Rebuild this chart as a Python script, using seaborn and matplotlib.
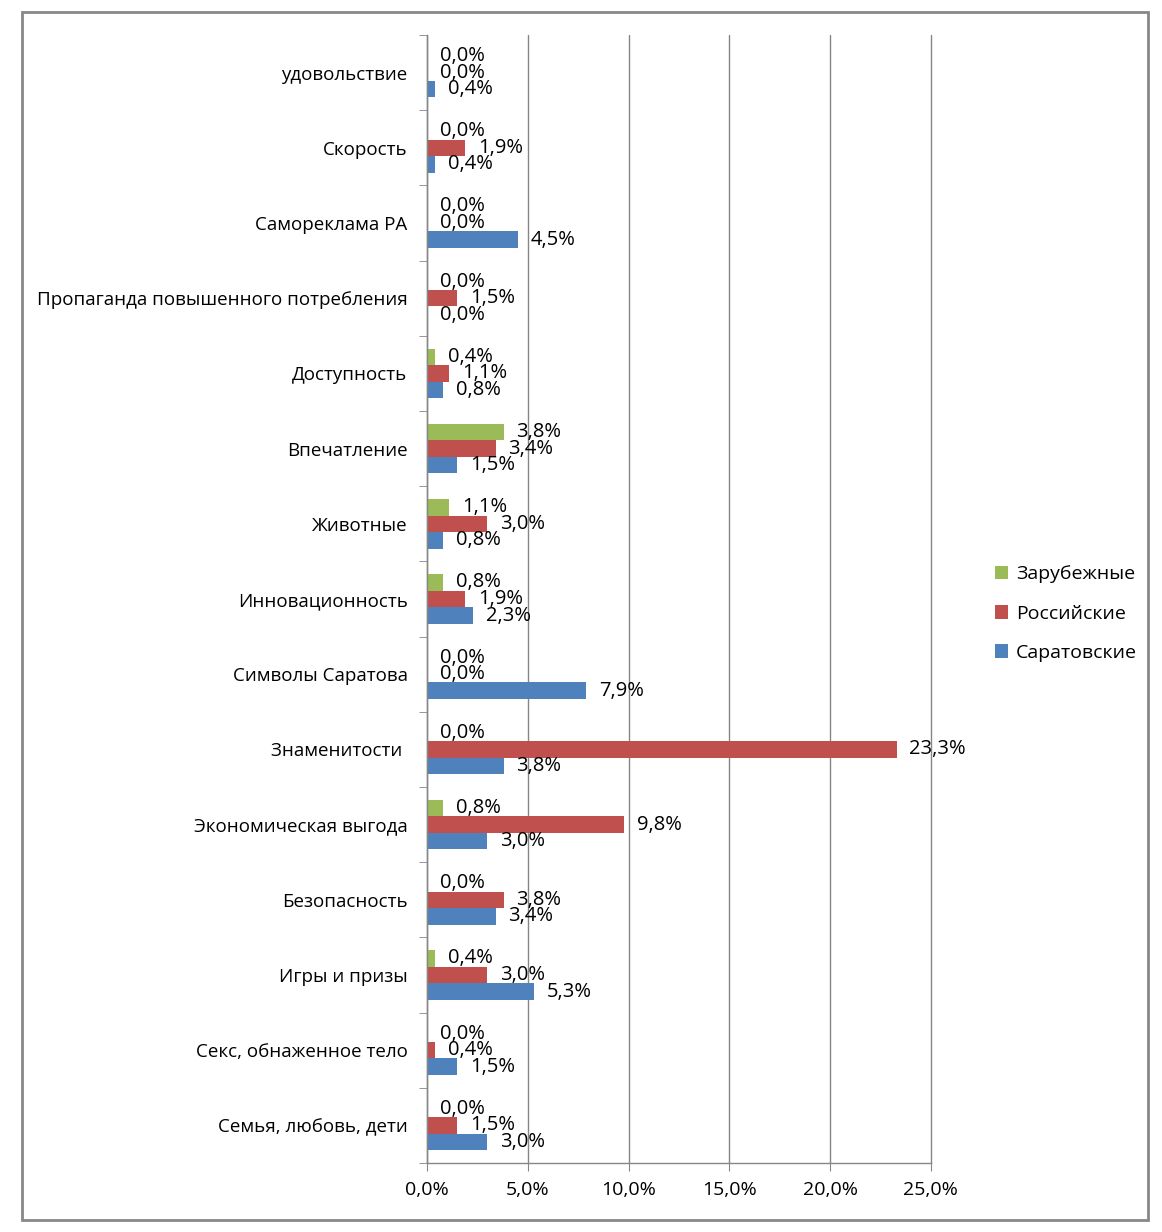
import numpy as np
import pandas as pd
import matplotlib
matplotlib.use("Agg")
import matplotlib.pyplot as plt
import seaborn as sns
from matplotlib.patches import Rectangle


categories = ["удовольствие", "Скорость", "Самореклама РА",
              "Пропаганда повышенного потребления", "Доступность",
              "Впечатление", "Животные", "Инновационность",
              "Символы Саратова", "Знаменитости ", "Экономическая выгода",
              "Безопасность", "Игры и призы", "Секс, обнаженное тело",
              "Семья, любовь, дети"]
series = ["Зарубежные", "Российские", "Саратовские"]
foreign = [0.0, 0.0, 0.0, 0.0, 0.4, 3.8, 1.1, 0.8, 0.0, 0.0, 0.8, 0.0, 0.4, 0.0, 0.0]
russian = [0.0, 1.9, 0.0, 1.5, 1.1, 3.4, 3.0, 1.9, 0.0, 23.3, 9.8, 3.8, 3.0, 0.4, 1.5]
saratov = [0.4, 0.4, 4.5, 0.0, 0.8, 1.5, 0.8, 2.3, 7.9, 3.8, 3.0, 3.4, 5.3, 1.5, 3.0]
colors = ["#9BBB59", "#C0504D", "#4F81BD"]
xticks = [0, 5, 10, 15, 20, 25]

df = pd.DataFrame({
    "cat": categories * 3,
    "series": [series[0]] * 15 + [series[1]] * 15 + [series[2]] * 15,
    "val": foreign + russian + saratov,
})

sns.set_style("white")
plt.rcParams["font.family"] = ["Open Sans", "DejaVu Sans"]
plt.rcParams["text.color"] = "black"
plt.rcParams["xtick.color"] = "black"
plt.rcParams["ytick.color"] = "black"

fig = plt.figure(figsize=(11.62, 12.32), dpi=100)
ax = fig.add_axes([0.3675, 0.056, 0.4335, 0.9156])

sns.barplot(data=df, y="cat", x="val", hue="series", order=categories,
            hue_order=series, palette=colors, orient="h", width=0.66,
            saturation=1, linewidth=0, ax=ax, legend=True)

def fmt(v):
    return f"{v:.1f}%".replace(".", ",")

# data labels overlap a bit, same as in the source chart
for cont, vals in zip(ax.containers, [foreign, russian, saratov]):
    ax.bar_label(cont, labels=[fmt(v) for v in vals], padding=9, fontsize=14.5, color="black")

ax.set_xlim(0, 25)
ax.set_ylim(14.5, -0.5)
ax.set_xticks(xticks)
ax.set_xticklabels([fmt(t) for t in xticks], fontsize=14)
ax.set_yticks(range(len(categories)))
ax.set_yticklabels(categories, fontsize=13.5)
ax.set_yticks(np.arange(-0.5, 15, 1), minor=True)
ax.tick_params(axis="y", which="major", length=0, pad=14)
ax.tick_params(axis="y", which="minor", length=6, color="#868686", direction="out", left=True)
ax.tick_params(axis="x", which="major", length=6, color="#868686", direction="out", bottom=True, pad=7)
ax.set_xlabel("")
ax.set_ylabel("")
ax.grid(axis="x", color="#868686", linewidth=1)
ax.set_axisbelow(True)
for line in ax.get_xgridlines():
    line.set_clip_on(False)
for side in ["top", "right"]:
    ax.spines[side].set_visible(False)
for side in ["left", "bottom"]:
    ax.spines[side].set_color("#868686")
    ax.spines[side].set_linewidth(1)

handles, labels = ax.get_legend_handles_labels()
ax.legend_.remove()
fig.legend(handles, labels, loc="center left", bbox_to_anchor=(0.841, 0.502),
           frameon=False, fontsize=14, handlelength=0.7, handleheight=0.7,
           labelspacing=1.1, handletextpad=0.4)

fig.patches.append(Rectangle((22 / 1162, 1 - 1220 / 1232), 1126 / 1162, 1208 / 1232,
                             transform=fig.transFigure, fill=False,
                             edgecolor="#878787", linewidth=2))

fig.savefig("out.png", dpi=100, facecolor="white")
